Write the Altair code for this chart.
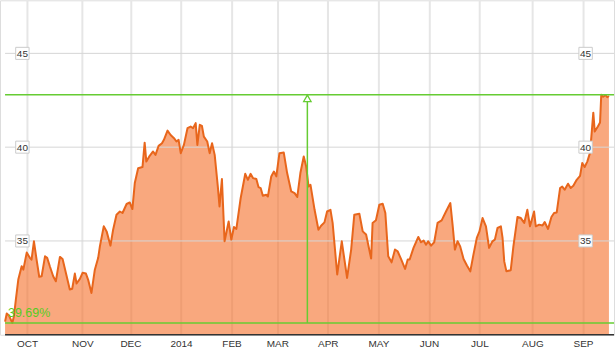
import altair as alt
import pandas as pd

# ---- price series (x = trading-day index from 1 Oct 2013, y = price) ----
day = [
    -9.1, -8.4, -7.5, -6.1, -5.4, -4.6, -3.6, -2.2, -1.5, -0.1, 1.2, 1.9, 2.9, 4.0, 5.1, 6.1, 7.5, 8.4, 9.5, 10.9,
    12.0, 13.7, 14.8, 16.5, 17.8, 18.8, 19.9, 20.6, 22.0, 23.1, 24.5, 25.4, 26.8, 28.2, 29.6, 30.3, 31.9, 33.1, 34.7, 35.8,
    37.2, 38.6, 39.7, 41.4, 42.7, 43.8, 44.8, 46.2, 48.0, 48.9, 49.6, 51.0, 52.4, 53.4, 54.7, 56.1, 56.9, 58.4, 59.7, 61.1,
    62.1, 63.0, 63.9, 65.2, 66.7, 68.0, 69.0, 70.1, 70.8, 71.8, 72.7, 73.5, 74.9, 75.9, 76.9, 78.0, 79.3, 80.0, 81.0, 82.1,
    83.8, 84.9, 86.0, 87.0, 88.8, 90.7, 91.8, 92.9, 93.9, 95.3, 96.2, 97.1, 98.0, 99.4, 100.1, 101.5, 102.6, 103.6, 104.9, 106.7,
    108.1, 109.8, 111.2, 112.3, 113.6, 115.0, 116.0, 117.0, 117.8, 119.5, 121.1, 122.2, 123.6, 124.7, 126.1, 127.0, 128.9, 130.8, 133.0, 134.7,
    136.0, 138.1, 139.5, 140.9, 143.0, 143.6, 145.0, 146.4, 147.8, 148.9, 150.1, 151.5, 152.9, 154.0, 155.4, 157.1, 158.2, 159.0, 160.6, 162.6,
    163.7, 164.8, 165.8, 166.7, 167.9, 169.2, 170.6, 172.3, 174.1, 175.9, 176.9, 177.8, 178.9, 180.0, 181.4, 182.8, 184.2, 185.5, 186.9, 188.0,
    189.3, 190.7, 192.0, 193.4, 194.4, 195.5, 196.9, 197.6, 198.3, 199.2, 201.0, 202.1, 203.8, 205.2, 206.6, 207.9, 209.0, 210.7, 211.4, 212.8,
    214.2, 215.1, 216.5, 217.9, 219.0, 220.1, 221.5, 222.4, 223.4, 224.8, 225.9, 227.0, 228.4, 229.8, 230.7, 231.7, 232.8, 233.9, 234.5, 235.3,
    235.9, 237.2, 238.1, 238.6, 239.4, 240.4, 241.1, 241.8,
]
price = [
    30.70, 31.13, 31.03, 30.63, 30.99, 31.88, 32.94, 33.65, 33.47, 34.38, 34.10, 34.00, 34.98, 34.00, 33.09, 33.12, 34.18, 34.10, 33.65, 33.12,
    32.85, 34.15, 34.04, 33.12, 32.41, 32.45, 33.26, 32.73, 32.98, 33.30, 33.26, 32.94, 32.23, 33.47, 34.10, 34.71, 35.78, 35.51, 34.75, 35.60,
    36.40, 36.57, 36.49, 36.97, 37.05, 36.70, 38.09, 38.88, 38.94, 40.24, 39.23, 39.54, 39.77, 39.59, 40.07, 40.21, 40.39, 40.88, 40.65, 40.48,
    40.30, 40.39, 39.68, 40.12, 41.01, 41.10, 41.01, 41.28, 40.12, 41.19, 41.13, 40.56, 40.30, 39.68, 40.21, 39.59, 37.90, 36.84, 38.30, 34.98,
    36.04, 35.07, 35.74, 35.64, 37.29, 38.58, 38.26, 38.58, 38.35, 38.30, 37.87, 37.82, 37.41, 37.46, 37.37, 38.44, 38.70, 38.44, 39.68, 39.71,
    38.62, 37.64, 37.55, 37.34, 38.62, 39.50, 38.97, 37.90, 37.99, 36.66, 35.60, 35.81, 35.99, 36.57, 36.66, 35.96, 33.21, 34.98, 33.03, 34.54,
    36.40, 36.45, 35.51, 35.34, 34.06, 35.96, 36.10, 36.93, 36.98, 36.49, 34.18, 33.86, 34.54, 34.45, 34.04, 33.51, 34.01, 34.01, 34.63, 35.21,
    34.93, 35.02, 34.80, 34.98, 34.75, 34.93, 35.96, 36.10, 36.57, 37.02, 35.78, 34.54, 34.98, 34.71, 34.04, 33.69, 33.38, 34.27, 35.16, 35.51,
    36.22, 35.78, 34.63, 34.98, 35.07, 35.69, 35.78, 35.16, 33.91, 33.38, 33.44, 34.71, 36.28, 36.22, 35.96, 36.66, 35.78, 36.57, 35.78, 35.87,
    35.82, 36.01, 35.64, 36.28, 36.49, 36.52, 37.82, 37.90, 37.73, 38.05, 37.82, 37.94, 38.26, 38.47, 39.15, 38.94, 39.23, 39.68, 40.56, 41.84,
    40.83, 41.10, 41.31, 42.79, 42.69, 42.78, 42.66, 42.73,
]

# ---- axis ticks ----
month_days = [0, 23, 43, 64, 85, 104, 125, 146, 167, 188, 210, 231]
month_labels = ["OCT", "NOV", "DEC", "2014", "FEB", "MAR", "APR", "MAY", "JUN", "JUL", "AUG", "SEP"]
price_ticks = [35, 40, 45]
label_days_left = -1.9
label_days_right = 232.1

# ---- annotation (max / min range) ----
range_low = 30.63
range_high = 42.79
range_marker_day = 116.5
range_label = "39.69%"
range_label_day = -7.9

x_domain = [-11.2, 243.9]
y_domain = [30, 47.83]

GREEN = "#66cc33"

df = pd.DataFrame({"day": day, "price": price})
df["floor"] = y_domain[0]

xs = alt.Scale(domain=x_domain, nice=False, zero=False)
ys = alt.Scale(domain=y_domain, nice=False, zero=False)

vals_js = "[" + ",".join(str(v) for v in month_days) + "]"
labs_js = "[" + ",".join("'" + s + "'" for s in month_labels) + "]"
label_expr = f"{labs_js}[indexof({vals_js}, datum.value)]"

x_axis = alt.Axis(
    values=month_days, labelExpr=label_expr, title=None, grid=True,
    gridColor="#e6e6e6", gridWidth=2, ticks=False, domain=False,
    labelFont="Liberation Sans", labelFontSize=10, labelColor="#333333",
    labelPadding=4, labelBaseline="top", labelAngle=0,
)

base = alt.Chart(df)

area = base.mark_area(color="#f56e28", opacity=0.6, clip=True).encode(
    x=alt.X("day:Q", scale=xs, axis=x_axis),
    y=alt.Y("price:Q", scale=ys, axis=None),
    y2="floor:Q",
)

hgrid_df = pd.DataFrame({"v": price_ticks, "x0": [day[0]] * len(price_ticks), "x1": [x_domain[1]] * len(price_ticks)})
hgrid = alt.Chart(hgrid_df).mark_rule(color="#d6d6d6", strokeWidth=1).encode(
    x=alt.X("x0:Q", scale=xs), x2="x1:Q", y=alt.Y("v:Q", scale=ys)
)

line = base.mark_line(color="#e8661c", strokeWidth=2, strokeJoin="round").encode(
    x=alt.X("day:Q", scale=xs), y=alt.Y("price:Q", scale=ys)
)

baseline_df = pd.DataFrame({"y": [y_domain[0]], "x0": [day[0]], "x1": [x_domain[1]]})
baseline = alt.Chart(baseline_df).mark_rule(color="#333333", strokeWidth=1.3).encode(
    x=alt.X("x0:Q", scale=xs), x2="x1:Q", y=alt.Y("y:Q", scale=ys)
)

hl_df = pd.DataFrame({"y": [range_low, range_high], "x0": [day[0]] * 2, "x1": [x_domain[1]] * 2})
hlines = alt.Chart(hl_df).mark_rule(color=GREEN, strokeWidth=1.5).encode(
    x=alt.X("x0:Q", scale=xs), x2="x1:Q", y=alt.Y("y:Q", scale=ys)
)

vl_df = pd.DataFrame({"x": [range_marker_day], "y0": [range_low], "y1": [range_high]})
vline = alt.Chart(vl_df).mark_rule(color=GREEN, strokeWidth=1.5).encode(
    x=alt.X("x:Q", scale=xs), y=alt.Y("y0:Q", scale=ys), y2="y1:Q"
)
arrow = alt.Chart(vl_df).mark_point(
    shape="triangle-up", size=55, filled=True, fill="white", stroke=GREEN, strokeWidth=1.3, opacity=1, yOffset=3.5
).encode(x=alt.X("x:Q", scale=xs), y=alt.Y("y1:Q", scale=ys))

pct_df = pd.DataFrame({"x": [range_label_day], "y": [range_low], "t": [range_label]})
pct = alt.Chart(pct_df).mark_text(
    color="#55cc22", font="Liberation Sans", fontSize=12.5, align="left", baseline="alphabetic", dy=-6
).encode(x=alt.X("x:Q", scale=xs), y=alt.Y("y:Q", scale=ys), text="t:N")

lab_df = pd.DataFrame({
    "x": [label_days_left] * len(price_ticks) + [label_days_right] * len(price_ticks),
    "y": price_ticks + price_ticks,
    "t": [str(v) for v in price_ticks] * 2,
})
boxes = alt.Chart(lab_df).mark_point(
    shape="M-1,-0.9L1,-0.9L1,0.9L-1,0.9Z", size=180, filled=True, fill="white",
    stroke="#cccccc", strokeWidth=1, opacity=1
).encode(x=alt.X("x:Q", scale=xs), y=alt.Y("y:Q", scale=ys))
labels = alt.Chart(lab_df).mark_text(
    font="Liberation Sans", fontSize=10, color="#333333", align="center", baseline="middle", dy=0.5
).encode(x=alt.X("x:Q", scale=xs), y=alt.Y("y:Q", scale=ys), text="t:N")

chart = alt.layer(
    area, hgrid, line, baseline, hlines, vline, arrow, pct, boxes, labels
).properties(
    width=615, height=335, padding=0,
    autosize=alt.AutoSizeParams(type="pad"),
).configure_view(stroke=None).configure(background="white")

chart.save("out.html", embed_options={"renderer": "svg", "actions": False})
